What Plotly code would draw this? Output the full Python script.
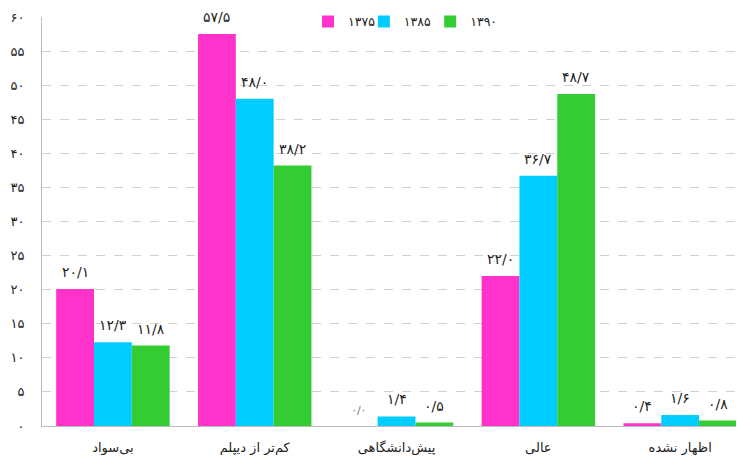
import plotly.graph_objects as go

categories = ["بی‌سواد", "کم‌تر از دیپلم", "پیش‌دانشگاهی", "عالی", "اظهار نشده"]
series_names = ["۱۳۷۵", "۱۳۸۵", "۱۳۹۰"]
values_1375 = [20.1, 57.5, 0.0, 22.0, 0.4]
values_1385 = [12.3, 48.0, 1.4, 36.7, 1.6]
values_1390 = [11.8, 38.2, 0.5, 48.7, 0.8]
y_ticks = [0, 5, 10, 15, 20, 25, 30, 35, 40, 45, 50, 55, 60]

colors = ["#FF33CC", "#00CCFF", "#33CC33"]
FONT = "DejaVu Sans"

fa_map = str.maketrans("0123456789.", "۰۱۲۳۴۵۶۷۸۹/")


def fa(s):
    return str(s).translate(fa_map)


legend_ids = ["legend", "legend2", "legend3"]
legend_x = [0.379, 0.4585, 0.553]

fig = go.Figure()
all_values = [values_1375, values_1385, values_1390]
for name, vals, col, lid in zip(series_names, all_values, colors, legend_ids):
    fig.add_trace(go.Bar(
        x=list(range(len(categories))), y=vals, name=name,
        marker=dict(color=col, line=dict(width=0)),
        hoverinfo="skip", legend=lid,
    ))

# value labels above bars
n = len(series_names)
group_w = 1 - 0.2
bw = group_w / n
for i, vals in enumerate(all_values):
    off = -group_w / 2 + bw * (i + 0.5)
    for j, v in enumerate(vals):
        fig.add_annotation(
            x=j + off, y=v, text=fa(f"{v:.1f}"), showarrow=False,
            yanchor="bottom", yshift=7,
            font=dict(family=FONT, size=14 if v > 0 else 11,
                      color="#222222" if v > 0 else "#777777"),
        )

legend_style = dict(orientation="h", xanchor="left", y=1.025, yanchor="top",
                    font=dict(family=FONT, size=12.5), bgcolor="rgba(0,0,0,0)",
                    itemwidth=30)

fig.update_layout(
    width=736, height=447,
    margin=dict(l=34, r=0, t=9, b=29, autoexpand=False),
    paper_bgcolor="white", plot_bgcolor="white",
    barmode="group", bargap=0.2, bargroupgap=0,
    font=dict(family=FONT, size=13, color="#222222"),
    showlegend=True,
    legend=dict(x=legend_x[0], **legend_style),
    legend2=dict(x=legend_x[1], **legend_style),
    legend3=dict(x=legend_x[2], **legend_style),
)
fig.update_xaxes(
    tickmode="array", tickvals=list(range(len(categories))), ticktext=categories,
    range=[-0.5, 4.45], showgrid=False, showline=True, linecolor="#bbbbbb",
    linewidth=1, ticks="", tickfont=dict(family=FONT, size=13, color="#222222"),
    ticklabelstandoff=9, automargin=False,
)
fig.update_yaxes(
    range=[0, 60], tickmode="array", tickvals=y_ticks,
    ticktext=[fa(t) for t in y_ticks],
    showgrid=True, gridcolor="#d0d0d0", griddash="dash", gridwidth=1,
    showline=True, linecolor="#bbbbbb", linewidth=1, zeroline=False,
    ticks="", tickfont=dict(family=FONT, size=13, color="#222222"),
    ticklabelstandoff=14, automargin=False,
)

fig.write_html("out.html")
